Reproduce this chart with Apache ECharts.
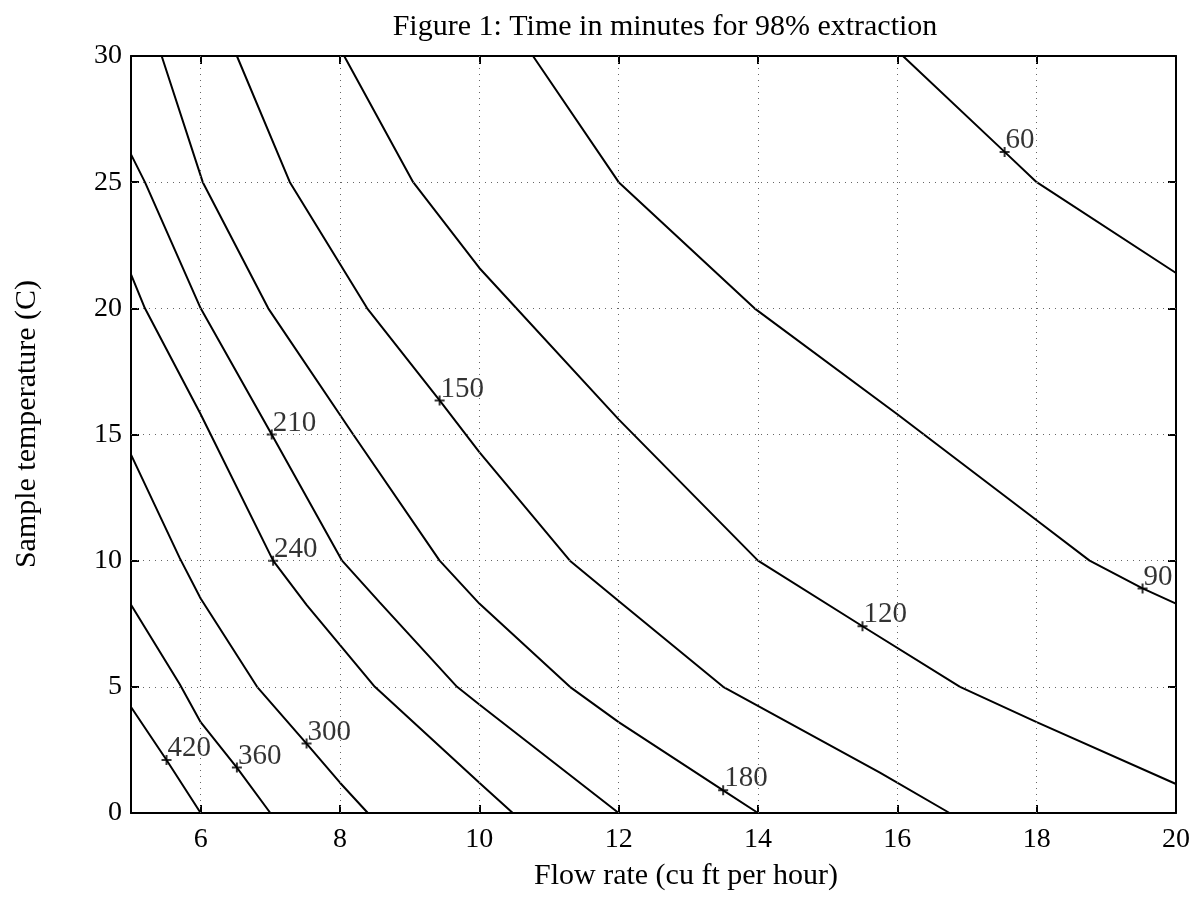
<!DOCTYPE html>
<html>
<head>
<meta charset="utf-8">
<script src="https://cdn.jsdelivr.net/npm/echarts@6/dist/echarts.min.js"></script>
<style>
html,body{margin:0;padding:0;background:#fff;}
#chart{width:1200px;height:922px;}
</style>
</head>
<body>
<div id="chart"></div>
<script>
// ---- data ----
const xTicks = [6, 8, 10, 12, 14, 16, 18, 20];
const yTicks = [0, 5, 10, 15, 20, 25, 30];
const levels = [420, 360, 300, 240, 210, 180, 150, 120, 90, 60];

const c420 = [[5, 4.2], [5.51, 2.1], [6, 0]];
const c360 = [[5, 8.25], [5.7, 5.1], [6, 3.6], [6.52, 1.8], [7, 0]];
const c300 = [[5, 14.2], [5.7, 10.1], [6, 8.5], [6.81, 5], [7.52, 2.75], [8, 1.2], [8.4, 0]];
const c240 = [[5, 21.35], [5.2, 20], [6, 15.8], [7.04, 10], [7.52, 8.25], [8.5, 5], [10, 1.2], [10.48, 0]];
const c210 = [[5, 26.1], [5.2, 25], [6, 20], [7.02, 15], [8.03, 10], [8.57, 8.35], [9.68, 5], [10, 4.3], [12, 0]];
const c180 = [[5.44, 30], [6.03, 25], [6.97, 20], [8.19, 15], [9.43, 10], [10, 8.3], [11.3, 5], [12, 3.6], [13.5, 0.9], [14, 0]];
const c150 = [[6.52, 30], [7.28, 25], [8.39, 20], [9.43, 16.35], [10, 14.3], [11.3, 10], [12, 8.4], [13.5, 5], [15.75, 1.6], [16.75, 0]];
const c120 = [[8.06, 30], [9.05, 25], [10, 21.6], [12, 15.6], [14, 10], [15.5, 7.4], [16.9, 5], [18, 3.6], [20, 1.15]];
const c90  = [[10.77, 30], [12, 25], [13.95, 20], [16, 15.8], [18, 11.6], [18.76, 10], [19.52, 8.9], [20, 8.3]];
const c60  = [[16.08, 30], [17.54, 26.2], [18, 25], [20, 21.4]];
const contours = [c420, c360, c300, c240, c210, c180, c150, c120, c90, c60];

// label anchor points (x, y) for each level
const labelX = [5.51, 6.52, 7.52, 7.04, 7.02, 13.5, 9.43, 15.5, 19.52, 17.54];
const labelY = [2.1, 1.8, 2.75, 10, 15, 0.9, 16.35, 7.4, 8.9, 26.2];

const titleText = 'Figure 1: Time in minutes for 98% extraction';
const xName = 'Flow rate (cu ft per hour)';
const yName = 'Sample temperature (C)';

// ---- chart ----
const FONT = '"Liberation Serif", "Times New Roman", serif';
const chart = echarts.init(document.getElementById('chart'), null, {renderer: 'canvas'});

const series = contours.map((pts, i) => ({
  type: 'line',
  name: String(levels[i]),
  data: pts,
  showSymbol: false,
  symbol: 'none',
  silent: true,
  lineStyle: {color: '#000', width: 2},
  xAxisIndex: 0, yAxisIndex: 0,
  z: 3
}));

// dotted grid lines drawn through the axes' scales
const gridLines = [];
xTicks.slice(0, -1).forEach(v => gridLines.push({xAxis: v}));
yTicks.slice(1, -1).forEach(v => gridLines.push({yAxis: v}));
series.push({
  type: 'line', data: [], silent: true,
  markLine: {
    silent: true, symbol: 'none', animation: false,
    label: {show: false},
    lineStyle: {color: '#666', type: [1, 5], width: 1},
    data: gridLines
  },
  z: 1
});

series.push({
  type: 'scatter',
  data: levels.map((l, i) => ({value: [labelX[i], labelY[i]], name: String(l)})),
  symbol: 'path://M0,4L10,4L10,6L0,6Z M4,0L6,0L6,10L4,10Z',
  symbolSize: 10,
  itemStyle: {color: '#000'},
  silent: true,
  z: 4,
  label: {
    show: true,
    formatter: p => p.name,
    position: [6, 8],
    align: 'left',
    verticalAlign: 'bottom',
    fontFamily: FONT,
    fontSize: 29,
    color: '#000'
  }
});

const axisCommon = {
  type: 'value',
  axisLine: {show: true, onZero: false, lineStyle: {color: '#000', width: 2}},
  splitLine: {show: false},
  axisTick: {show: true, inside: true, length: 8, lineStyle: {color: '#000', width: 2}},
};

chart.setOption({
  animation: false,
  backgroundColor: '#fff',
  grid: {left: 131, right: 24, top: 56, bottom: 109, containLabel: false},
  xAxis: [
    Object.assign({}, axisCommon, {
      position: 'bottom', min: 5, max: 20,
      axisTick: Object.assign({}, axisCommon.axisTick, {customValues: xTicks}),
      axisLabel: {customValues: xTicks, margin: 13, fontFamily: FONT, fontSize: 28, color: '#000'}
    }),
    Object.assign({}, axisCommon, {
      position: 'top', min: 5, max: 20,
      axisTick: Object.assign({}, axisCommon.axisTick, {customValues: xTicks}),
      axisLabel: {show: false}
    })
  ],
  yAxis: [
    Object.assign({}, axisCommon, {
      position: 'left', min: 0, max: 30, interval: 5,
      axisLabel: {margin: 9, fontFamily: FONT, fontSize: 28, color: '#000'}
    }),
    Object.assign({}, axisCommon, {
      position: 'right', min: 0, max: 30, interval: 5,
      axisLabel: {show: false}
    })
  ],
  series: series,
  graphic: [
    {type: 'text', x: 665, y: 27, style: {text: titleText, font: '30px ' + FONT, fill: '#000', align: 'center', verticalAlign: 'middle'}},
    {type: 'text', x: 686, y: 876, style: {text: xName, font: '30px ' + FONT, fill: '#000', align: 'center', verticalAlign: 'middle'}},
    {type: 'text', x: 27, y: 424, rotation: Math.PI / 2, style: {text: yName, font: '30px ' + FONT, fill: '#000', align: 'center', verticalAlign: 'middle'}}
  ]
});
</script>
</body>
</html>
